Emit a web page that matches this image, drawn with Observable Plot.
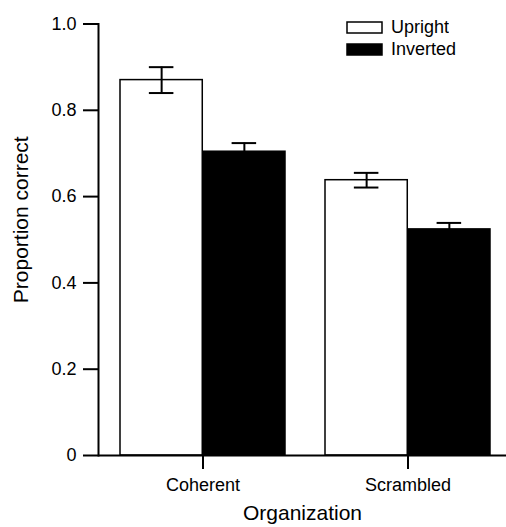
<!DOCTYPE html>
<html>
<head>
<meta charset="utf-8">
<script src="https://cdn.jsdelivr.net/npm/d3@7"></script>
<script src="https://cdn.jsdelivr.net/npm/@observablehq/plot@0.6"></script>
<style>
  html, body { margin: 0; padding: 0; background: #fff; }
  #wrap { position: relative; width: 506px; height: 527px; }
  #wrap .lg-swatches { font-family: "Liberation Sans", Arial, Helvetica, sans-serif !important; font-size: 18px !important; color: #000; margin: 0 !important; }
  #wrap .lg-swatch svg { overflow: visible; }
  #wrap .lg-swatch rect { stroke: #000; stroke-width: 1.5px; }
  #legend { position: absolute; left: 347px; top: 17px; }
</style>
</head>
<body>
<div id="wrap"><div id="legend"></div></div>
<script>
// ---- data ----
const organizations = ["Coherent", "Scrambled"];
const conditions = ["Upright", "Inverted"];
const uprightMeans = [0.870, 0.638];
const invertedMeans = [0.704, 0.524];
const uprightSE = [0.030, 0.017];
const invertedSE = [0.020, 0.015];
const yTicks = [0, 0.2, 0.4, 0.6, 0.8, 1.0];

function rows(cond, means, ses) {
  return organizations.map((org, i) => ({
    org, cond, mean: means[i], lo: means[i] - ses[i], hi: means[i] + ses[i]
  }));
}
const upRows = rows("Upright", uprightMeans, uprightSE);
const invRows = rows("Inverted", invertedMeans, invertedSE);

// ---- layout ----
const FONT = '"Liberation Sans", Arial, Helvetica, sans-serif';
const W = 506, H = 527;
const xRange = [120, 490.5];
const xPad = 0.193;
const step = (xRange[1] - xRange[0]) / (2 - xPad);
const bw = step * (1 - xPad);
const half = bw / 2;
const capW = 25;
const capIn = (bw - capW) / 2;

function errMarks(data, shift) {
  return [
    Plot.ruleX(data, {x: "org", y1: "lo", y2: "hi", dx: shift, stroke: "black", strokeWidth: 2}),
    Plot.tickY(data, {x: "org", y: "lo", dx: shift, insetLeft: capIn, insetRight: capIn, stroke: "black", strokeWidth: 2}),
    Plot.tickY(data, {x: "org", y: "hi", dx: shift, insetLeft: capIn, insetRight: capIn, stroke: "black", strokeWidth: 2})
  ];
}

const chart = Plot.plot({
  width: W, height: H,
  marginLeft: 98, marginRight: 0, marginTop: 23.5, marginBottom: 72,
  style: {fontFamily: FONT, fontSize: "18px", color: "black", background: "white", overflow: "visible"},
  x: {domain: organizations, range: xRange, paddingInner: xPad, paddingOuter: 0, axis: null},
  y: {domain: [0, 1], axis: null},
  color: {domain: conditions, range: ["white", "black"]},
  marks: [
    Plot.barY(upRows, {x: "org", y: "mean", fill: "cond", stroke: "black", strokeWidth: 1.5, insetRight: half}),
    ...errMarks(upRows, -half / 2),
    ...errMarks(invRows, half / 2),
    Plot.barY(invRows, {x: "org", y: "mean", fill: "cond", stroke: "black", strokeWidth: 1.5, insetLeft: half}),
    Plot.ruleY([0], {stroke: "black", strokeWidth: 2}),
    Plot.frame({anchor: "left", stroke: "black", strokeWidth: 2}),
    Plot.axisY({ticks: yTicks, tickSize: 15, tickPadding: 7, strokeWidth: 2, fontSize: 18,
      tickFormat: d => d === 0 ? "0" : d.toFixed(1), label: null}),
    Plot.axisX({tickSize: 14, tickPadding: 9, strokeWidth: 2, fontSize: 18, label: null}),
    Plot.text(["Proportion correct"], {frameAnchor: "left", rotate: -90, textAnchor: "middle", lineAnchor: "middle",
      dx: -77, dy: -20, fontSize: 21, fill: "black"}),
    Plot.text(["Organization"], {frameAnchor: "bottom", textAnchor: "middle", lineAnchor: "middle",
      dy: 58, fontSize: 21, fill: "black"})
  ]
});

document.getElementById("wrap").insertBefore(chart, document.getElementById("legend"));
const legend = chart.legend("color", {columns: 1, swatchWidth: 35, swatchHeight: 11, className: "lg"});
document.getElementById("legend").appendChild(legend);
</script>
</body>
</html>
